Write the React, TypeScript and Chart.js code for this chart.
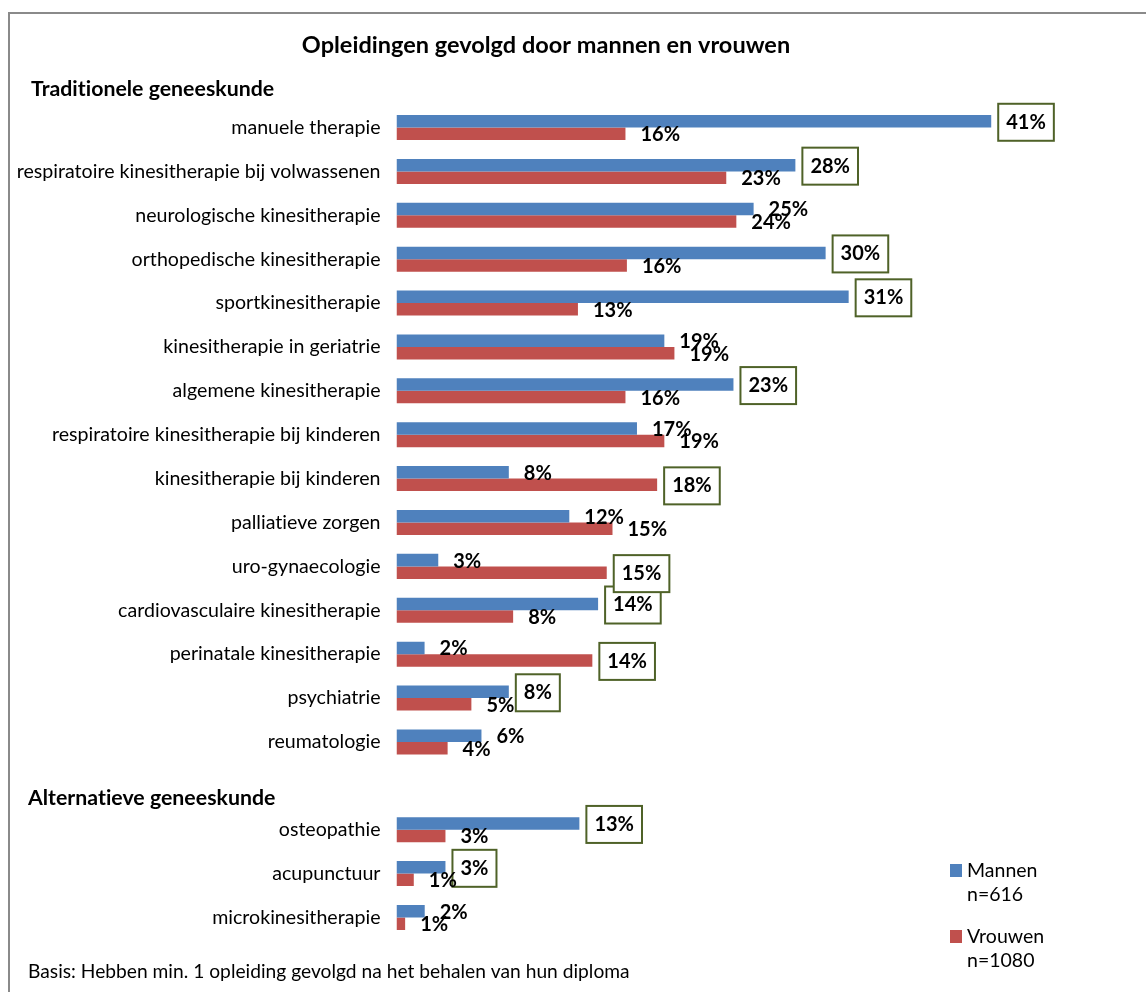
import React, { useEffect, useRef } from 'react';
import { Chart, registerables } from 'chart.js';

Chart.register(...registerables);

const chartTitle = 'Opleidingen gevolgd door mannen en vrouwen';
const sectionHeaders = ['Traditionele geneeskunde', 'Alternatieve geneeskunde'];
const sectionHeaderIndex = [0, 16];
const categories = [
  '',
  'manuele therapie',
  'respiratoire kinesitherapie bij volwassenen',
  'neurologische kinesitherapie',
  'orthopedische kinesitherapie',
  'sportkinesitherapie',
  'kinesitherapie in geriatrie',
  'algemene kinesitherapie',
  'respiratoire kinesitherapie bij kinderen',
  'kinesitherapie bij kinderen',
  'palliatieve zorgen',
  'uro-gynaecologie',
  'cardiovasculaire kinesitherapie',
  'perinatale kinesitherapie',
  'psychiatrie',
  'reumatologie',
  '',
  'osteopathie',
  'acupunctuur',
  'microkinesitherapie',
];
const mannen = [null, 41.3, 27.7, 24.8, 29.8, 31.4, 18.6, 23.4, 16.7, 7.8, 12.0, 2.9, 14.0, 1.95, 7.8, 5.9, null, 12.7, 3.4, 1.96];
const vrouwen = [null, 15.9, 22.9, 23.6, 16.0, 12.6, 19.3, 15.9, 18.6, 18.1, 15.0, 14.6, 8.1, 13.6, 5.2, 3.55, null, 3.4, 1.2, 0.6];
// which series' label is boxed (significant difference): 0 = Mannen, 1 = Vrouwen, -1 = none
const boxedSeries = [-1, 0, 0, -1, 0, 0, -1, 0, -1, 1, -1, 1, 0, 1, 0, -1, -1, 0, 0, -1];
const seriesNames = ['Mannen', 'Vrouwen'];
const sampleSizes = ['n=616', 'n=1080'];
const seriesColors = ['#4F81BD', '#C0504D'];
const footnote = 'Basis: Hebben min. 1 opleiding gevolgd na het behalen van hun diploma';

const FONT = 'Lato, "Open Sans", "DejaVu Sans", sans-serif';
const W = 1146;
const H = 992;

const setSpacing = (chart: any) => {
  try {
    (chart.ctx as any).letterSpacing = '0.01px';
  } catch (e) {
    /* ignore */
  }
};

const overlayPlugin = {
  id: 'overlay',
  beforeUpdate(chart: any) {
    setSpacing(chart);
  },
  beforeLayout(chart: any) {
    setSpacing(chart);
  },
  beforeDraw(chart: any) {
    setSpacing(chart);
  },
  afterDraw(chart: any) {
    const ctx = chart.ctx as CanvasRenderingContext2D;
    const yScale = chart.scales.y;
    ctx.save();
    setSpacing(chart);

    // outer border
    ctx.strokeStyle = '#8a8a8a';
    ctx.lineWidth = 2;
    ctx.beginPath();
    ctx.moveTo(9, H);
    ctx.lineTo(9, 13);
    ctx.lineTo(W, 13);
    ctx.stroke();

    // title
    ctx.fillStyle = '#000';
    ctx.textBaseline = 'middle';
    ctx.textAlign = 'center';
    ctx.font = `bold 23.5px ${FONT}`;
    ctx.fillText(chartTitle, 546, 45);

    // section headers
    ctx.textAlign = 'left';
    ctx.font = `bold 21.3px ${FONT}`;
    const headerX = [31, 28];
    const headerDy = [5, 12];
    sectionHeaders.forEach((h, i) => {
      const y = yScale.getPixelForValue(sectionHeaderIndex[i]) + headerDy[i];
      ctx.fillText(h, headerX[i], y);
    });

    // boxes then value labels
    ctx.font = `bold 20px ${FONT}`;
    const labels: { text: string; x: number; y: number }[] = [];
    chart.data.datasets.forEach((ds: any, di: number) => {
      const meta = chart.getDatasetMeta(di);
      meta.data.forEach((bar: any, i: number) => {
        const v = ds.data[i];
        if (v === null || v === undefined) return;
        const text = `${Math.round(v)}%`;
        const tx = bar.x + 15;
        const ty = bar.y + 1;
        labels.push({ text, x: tx, y: ty });
        if (boxedSeries[i] === di) {
          const tw = ctx.measureText(text).width;
          ctx.fillStyle = '#fff';
          ctx.fillRect(tx - 8, ty - 18.5, tw + 16, 37);
          ctx.strokeStyle = '#4F6228';
          ctx.lineWidth = 2;
          ctx.strokeRect(tx - 8, ty - 18.5, tw + 16, 37);
        }
      });
    });
    ctx.fillStyle = '#000';
    labels.forEach((l) => ctx.fillText(l.text, l.x, l.y));

    // legend
    ctx.font = `19.5px ${FONT}`;
    const legendSquareY = [864, 930];
    seriesNames.forEach((name, i) => {
      ctx.fillStyle = seriesColors[i];
      ctx.fillRect(950, legendSquareY[i], 12, 13);
      ctx.fillStyle = '#000';
      ctx.fillText(name, 967, legendSquareY[i] + 6.5);
      ctx.fillText(sampleSizes[i], 967, legendSquareY[i] + 31);
    });

    // footnote
    ctx.font = `19.2px ${FONT}`;
    ctx.fillText(footnote, 28, 972);

    ctx.restore();
  },
};

export default function App() {
  const canvasRef = useRef<HTMLCanvasElement | null>(null);

  useEffect(() => {
    document.body.style.margin = '0';
    const canvas = canvasRef.current;
    if (!canvas) return;
    const chart = new Chart(canvas, {
      type: 'bar',
      data: {
        labels: categories,
        datasets: [
          {
            label: seriesNames[0],
            data: mannen,
            backgroundColor: seriesColors[0],
            categoryPercentage: 0.57,
            barPercentage: 1,
          },
          {
            label: seriesNames[1],
            data: vrouwen,
            backgroundColor: seriesColors[1],
            categoryPercentage: 0.57,
            barPercentage: 1,
          },
        ],
      },
      options: {
        indexAxis: 'y',
        responsive: false,
        animation: false,
        layout: { padding: { top: 61.7, bottom: 52.6, left: 0, right: 101.5 } },
        plugins: {
          legend: { display: false },
          title: { display: false },
          tooltip: { enabled: false },
        },
        scales: {
          x: {
            display: false,
            min: 0,
            max: 45,
          },
          y: {
            grid: { display: false, drawTicks: false },
            border: { display: false },
            ticks: {
              padding: 16,
              color: '#000',
              autoSkip: false,
              font: { family: FONT, size: 19.6 },
            },
            afterFit: (scale: any) => {
              scale.width = 396.5;
            },
          },
        },
      },
      plugins: [overlayPlugin],
    });
    return () => chart.destroy();
  }, []);

  return (
    <div style={{ width: W, height: H }}>
      <canvas ref={canvasRef} width={W} height={H} style={{ display: 'block' }} />
    </div>
  );
}
